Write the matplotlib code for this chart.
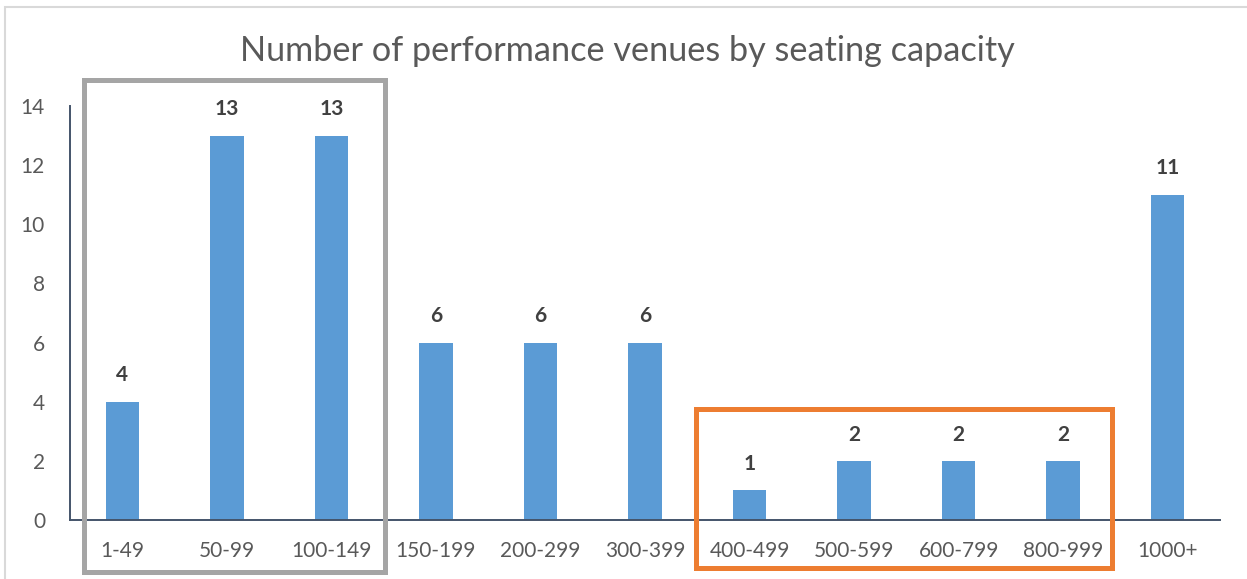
import matplotlib.pyplot as plt
from matplotlib.patches import Rectangle

categories = ["1-49", "50-99", "100-149", "150-199", "200-299", "300-399",
              "400-499", "500-599", "600-799", "800-999", "1000+"]
venues = [4, 13, 13, 6, 6, 6, 1, 2, 2, 2, 11]
y_ticks = [0, 2, 4, 6, 8, 10, 12, 14]

plt.rcParams['font.family'] = ['Lato', 'DejaVu Sans']

fig = plt.figure(figsize=(12.47, 5.79), dpi=100)
ax = fig.add_axes([70 / 1247, 1 - 520 / 579, 1150 / 1247, 414 / 579])

x = list(range(len(categories)))
ax.bar(x, venues, width=0.32, color="#5B9BD5", zorder=2)

for xi, v in zip(x, venues):
    ax.text(xi, v + 0.55, str(v), ha="center", va="bottom",
            fontsize=15, fontweight="bold", color="#404040")

ax.set_xlim(-0.5, len(categories) - 0.5)
ax.set_ylim(0, 14)
ax.set_yticks(y_ticks)
ax.set_xticks(x)
ax.set_xticklabels(categories)
ax.tick_params(axis="both", length=0, labelsize=15, colors="#595959")
ax.tick_params(axis="x", pad=15)
ax.tick_params(axis="y", pad=18)

for side in ["top", "right"]:
    ax.spines[side].set_visible(False)
for side in ["left", "bottom"]:
    ax.spines[side].set_color("#44546A")
    ax.spines[side].set_linewidth(1.4)

fig.text(0.503, 1 - 51 / 579, "Number of performance venues by seating capacity",
         ha="center", va="center", fontsize=24.7, color="#595959")

# highlight boxes around category groups
grey_group = (0, 2)
orange_group = (6, 9)
ax.add_patch(Rectangle((grey_group[0] - 0.37, -1.76), grey_group[1] - grey_group[0] + 0.885, 16.64,
                       fill=False, edgecolor="#A5A5A5", linewidth=3.6, clip_on=False, zorder=3))
ax.add_patch(Rectangle((orange_group[0] - 0.51, -1.62), orange_group[1] - orange_group[0] + 0.98, 5.37,
                       fill=False, edgecolor="#ED7D31", linewidth=3.6, clip_on=False, zorder=3))

# outer chart border
fig.patches.append(Rectangle((5 / 1247, -0.05), 1.1, 1 - 7 / 579 + 0.05, transform=fig.transFigure,
                             fill=False, edgecolor="#D9D9D9", linewidth=1.5))

plt.savefig("out.png", dpi=100)
